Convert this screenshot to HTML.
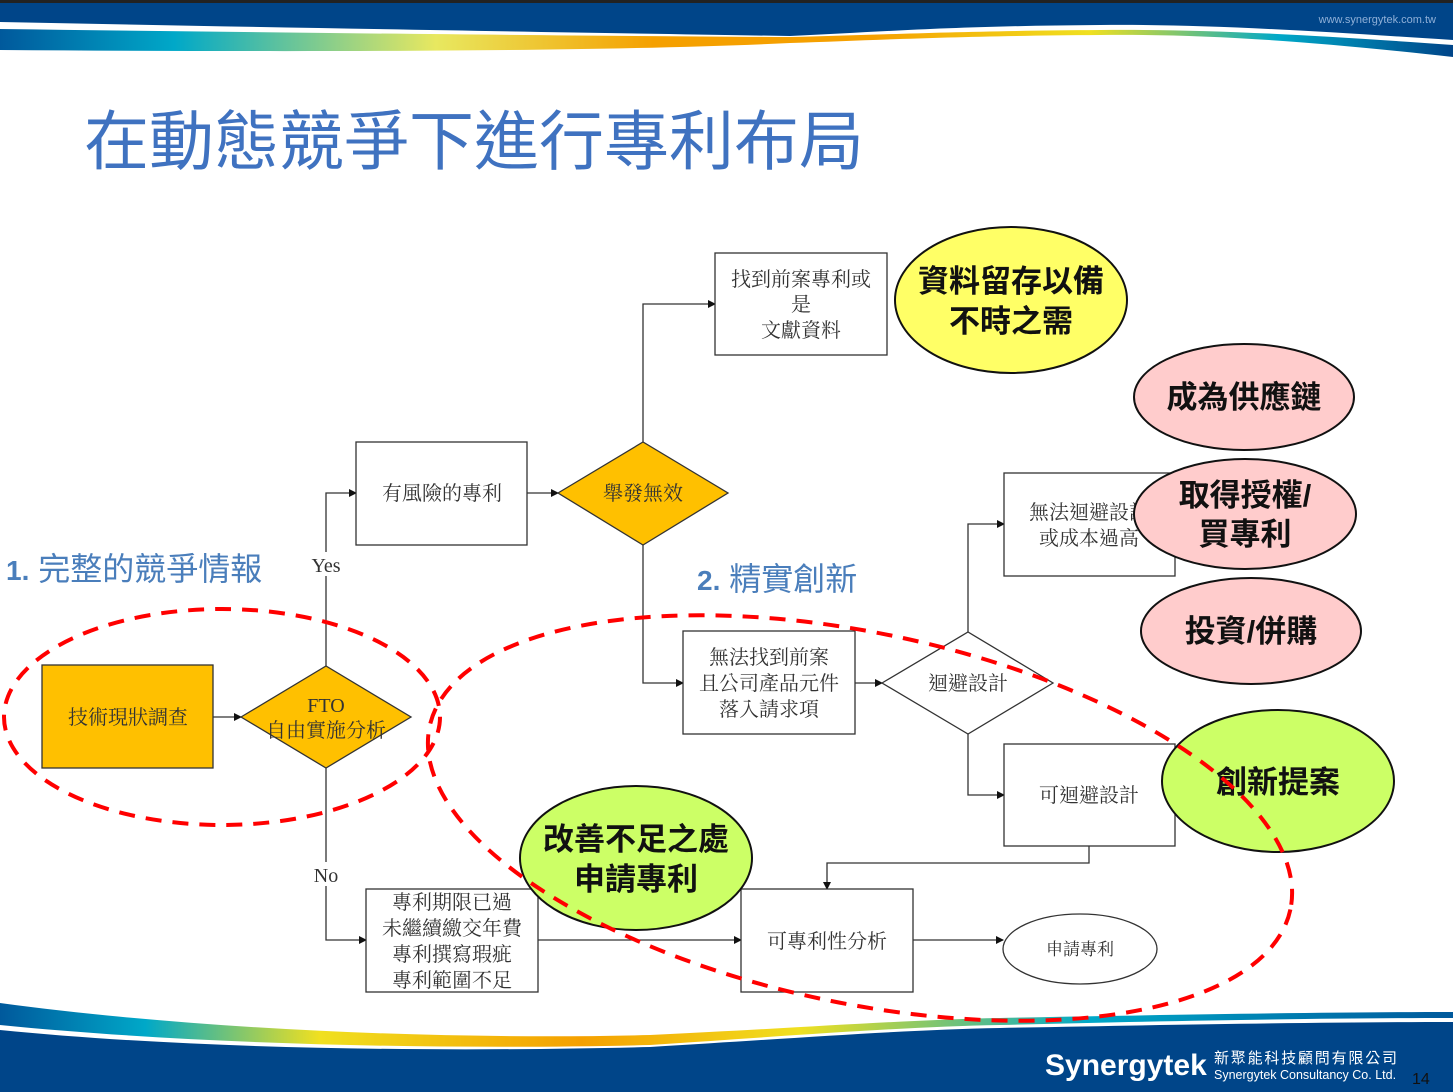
<!DOCTYPE html>
<html><head><meta charset="utf-8"><style>
html,body{margin:0;padding:0;background:#fff;}
svg{display:block;}
.bx{font-family:"Liberation Serif","Noto Serif CJK TC","Noto Serif CJK SC",serif;font-size:20px;fill:#333;}
.bb{font-family:"Liberation Sans","Noto Sans CJK TC",sans-serif;font-weight:bold;font-size:31px;fill:#111;}
.lb{font-family:"Liberation Sans","Noto Sans CJK TC",sans-serif;font-size:32px;fill:#4a7ebb;}
</style></head><body>
<svg width="1453" height="1092" viewBox="0 0 1453 1092" xmlns="http://www.w3.org/2000/svg">
<defs>
<linearGradient id="g1" x1="0" x2="1" y1="0" y2="0">
<stop offset="0" stop-color="#00599c"/><stop offset="0.12" stop-color="#00a8c8"/><stop offset="0.3" stop-color="#e8e860"/><stop offset="0.45" stop-color="#f5a000"/><stop offset="0.6" stop-color="#f5a000"/><stop offset="0.75" stop-color="#f0e020"/><stop offset="0.88" stop-color="#00a8c8"/><stop offset="1" stop-color="#004589"/></linearGradient>
<linearGradient id="g2" x1="0" x2="1" y1="0" y2="0">
<stop offset="0" stop-color="#00599c"/><stop offset="0.1" stop-color="#00a8c8"/><stop offset="0.22" stop-color="#f0e020"/><stop offset="0.4" stop-color="#f5a000"/><stop offset="0.55" stop-color="#f0e020"/><stop offset="0.75" stop-color="#00a8c8"/><stop offset="1" stop-color="#00599c"/></linearGradient>
<marker id="a" markerWidth="8" markerHeight="8" refX="7" refY="4" orient="auto" markerUnits="userSpaceOnUse"><path d="M0,0 L8,4 L0,8 z" fill="#111"/></marker>
</defs>
<!-- header -->
<path d="M0,0 H1453 V57 C1300,40 1200,34 1100,35 C950,36 880,40 790,43 C600,52 300,52 0,50 Z" fill="url(#g1)"/>
<path d="M0,0 H1453 V45 C1300,34 1200,29 1100,30 C950,31 880,35 790,37 C600,36 300,33 0,29 Z" fill="#fff"/>
<path d="M0,0 H1453 V40 C1300,30 1200,24 1100,25 C950,26 880,32 790,36 C600,33 300,28 0,22 Z" fill="#004589"/>
<rect x="0" y="0" width="1453" height="3" fill="#222"/>
<text x="1436" y="23" text-anchor="end" font-family="Liberation Sans,sans-serif" font-size="11" fill="#8fb0d8">www.synergytek.com.tw</text>
<!-- footer -->
<path d="M0,1003 C200,1030 450,1040 650,1035 C800,1028 900,1020 1000,1018 C1200,1014 1350,1012 1453,1012 V1092 H0 Z" fill="url(#g2)"/>
<path d="M0,1025 C200,1045 450,1050 650,1045 C800,1035 900,1027 1000,1025 C1200,1020 1350,1018 1453,1018 V1092 H0 Z" fill="#fff"/>
<path d="M0,1030 C200,1050 450,1052 650,1047 C800,1038 900,1030 1000,1028 C1200,1024 1350,1022 1453,1022 V1092 H0 Z" fill="#004589"/>
<text x="1045" y="1075" font-family="Liberation Sans,sans-serif" font-weight="bold" font-size="30" fill="#fff">Synergytek</text>
<text x="1214" y="1063" font-family="Liberation Sans,'Noto Sans CJK TC',sans-serif" font-size="15" letter-spacing="1.8" fill="#fff">新聚能科技顧問有限公司</text>
<text x="1214" y="1079" font-family="Liberation Sans,sans-serif" font-size="12.5" fill="#fff">Synergytek Consultancy Co. Ltd.</text>
<text x="1412" y="1084" font-family="Liberation Sans,sans-serif" font-size="16" fill="#111">14</text>
<!-- title -->
<text x="84" y="164" font-family="Liberation Sans,'Noto Sans CJK TC',sans-serif" font-size="65" fill="#3f72c0">在動態競爭下進行專利布局</text>
<text x="6" y="580" class="lb"><tspan font-weight="bold" font-size="28">1.</tspan> 完整的競爭情報</text>
<text x="697" y="590" class="lb"><tspan font-weight="bold" font-size="28">2.</tspan> 精實創新</text>
<!-- connectors -->
<g stroke="#333" stroke-width="1.3" fill="none">
<path d="M213,717 H241" marker-end="url(#a)"/>
<path d="M326,666 V493 H356" marker-end="url(#a)"/>
<path d="M527,493 H558" marker-end="url(#a)"/>
<path d="M643,442 V304 H715" marker-end="url(#a)"/>
<path d="M643,545 V683 H683" marker-end="url(#a)"/>
<path d="M855,683 H882" marker-end="url(#a)"/>
<path d="M968,632 V524 H1004" marker-end="url(#a)"/>
<path d="M968,734 V795 H1004" marker-end="url(#a)"/>
<path d="M1089,846 V863 H827 V889" marker-end="url(#a)"/>
<path d="M913,940 H1003" marker-end="url(#a)"/>
<path d="M326,768 V940 H366" marker-end="url(#a)"/>
<path d="M538,940 H741" marker-end="url(#a)"/>
</g>
<rect x="312" y="552" width="30" height="24" fill="#fff"/>
<text x="326" y="572" text-anchor="middle" class="bx">Yes</text>
<rect x="312" y="862" width="30" height="24" fill="#fff"/>
<text x="326" y="882" text-anchor="middle" class="bx">No</text>
<!-- nodes -->
<g stroke="#333" stroke-width="1.3">
<rect x="42" y="665" width="171" height="103" fill="#ffc000"/>
<polygon points="241,717 326,666 411,717 326,768" fill="#ffc000"/>
<rect x="356" y="442" width="171" height="103" fill="#fff"/>
<polygon points="558,493 643,442 728,493 643,545" fill="#ffc000"/>
<rect x="715" y="253" width="172" height="102" fill="#fff"/>
<rect x="683" y="631" width="172" height="103" fill="#fff"/>
<polygon points="882,683 968,632 1053,683 968,734" fill="#fff"/>
<rect x="1004" y="473" width="171" height="103" fill="#fff"/>
<rect x="1004" y="744" width="171" height="102" fill="#fff"/>
<rect x="741" y="889" width="172" height="103" fill="#fff"/>
<ellipse cx="1080" cy="949" rx="77" ry="35" fill="#fff"/>
<rect x="366" y="889" width="172" height="103" fill="#fff"/>
</g>
<g class="bx" text-anchor="middle">
<text x="128" y="724">技術現狀調查</text>
<text x="326" y="712">FTO</text><text x="326" y="737">自由實施分析</text>
<text x="442" y="500">有風險的專利</text>
<text x="643" y="500">舉發無效</text>
<text x="801" y="286">找到前案專利或</text><text x="801" y="311">是</text><text x="801" y="337">文獻資料</text>
<text x="769" y="664">無法找到前案</text><text x="769" y="690">且公司產品元件</text><text x="769" y="716">落入請求項</text>
<text x="968" y="690">迴避設計</text>
<text x="1089" y="519">無法迴避設計</text><text x="1089" y="545">或成本過高</text>
<text x="1089" y="802">可迴避設計</text>
<text x="827" y="948">可專利性分析</text>
<text x="1080" y="955" font-size="17">申請專利</text>
<text x="452" y="909">專利期限已過</text><text x="452" y="935">未繼續繳交年費</text><text x="452" y="961">專利撰寫瑕疵</text><text x="452" y="987">專利範圍不足</text>
</g>
<!-- callout ellipses -->
<g stroke="#111" stroke-width="2">
<ellipse cx="1011" cy="300" rx="116" ry="73" fill="#ffff66"/>
<ellipse cx="1244" cy="397" rx="110" ry="53" fill="#ffcccc"/>
<ellipse cx="1245" cy="514" rx="111" ry="55" fill="#ffcccc"/>
<ellipse cx="1251" cy="631" rx="110" ry="53" fill="#ffcccc"/>
<ellipse cx="1278" cy="781" rx="116" ry="71" fill="#ccff66"/>
<ellipse cx="636" cy="858" rx="116" ry="72" fill="#ccff66"/>
</g>
<g class="bb" text-anchor="middle">
<text x="1011" y="292">資料留存以備</text><text x="1011" y="332">不時之需</text>
<text x="1244" y="408">成為供應鏈</text>
<text x="1245" y="506">取得授權/</text><text x="1245" y="545">買專利</text>
<text x="1251" y="642">投資/併購</text>
<text x="1278" y="793">創新提案</text>
<text x="636" y="850">改善不足之處</text><text x="636" y="890">申請專利</text>
</g>
<!-- dashed regions -->
<g stroke="#ff0000" stroke-width="4" fill="none" stroke-dasharray="16,11">
<ellipse cx="222" cy="717" rx="218" ry="108"/>
<ellipse cx="860" cy="818" rx="440" ry="185" transform="rotate(12 860 818)"/>
</g>
</svg>
</body></html>
